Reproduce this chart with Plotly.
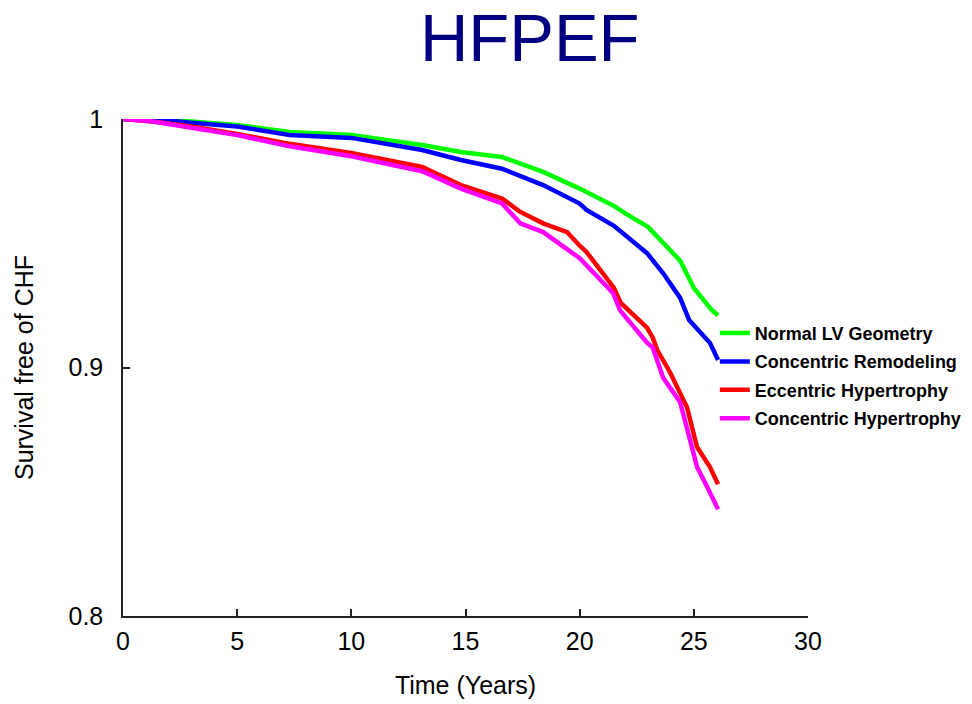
import plotly.graph_objects as go

# Kaplan-Meier style survival curves
series_names = ["Normal LV Geometry", "Concentric Remodeling",
                "Eccentric Hypertrophy", "Concentric Hypertrophy"]
series_colors = ["#00FF00", "#0000FF", "#FF0000", "#FF00FF"]

normal_t = [0, 1.3, 3, 5, 7.3, 10, 13.1, 14.8, 16.6, 18.4, 20.0, 21.5, 22.0,
            23.0, 24.4, 25.0, 25.8, 26.06]
normal_s = [1.0, 1.0, 0.999, 0.9976, 0.9948, 0.9936, 0.9895, 0.9867, 0.9847,
            0.9787, 0.972, 0.965, 0.962, 0.9565, 0.943, 0.932, 0.923, 0.921]

remod_t = [0, 1.3, 3, 5, 7.3, 10, 13.1, 14.8, 16.6, 18.4, 20.0, 20.3, 21.5,
           22.95, 23.65, 24.4, 24.8, 25.7, 26.06]
remod_s = [1.0, 1.0, 0.9985, 0.997, 0.9936, 0.9924, 0.9875, 0.9835, 0.980,
           0.9734, 0.966, 0.9634, 0.957, 0.946, 0.938, 0.928, 0.919, 0.910, 0.903]

ecc_t = [0, 1.3, 3, 5, 7.3, 10, 13.1, 14.8, 16.6, 17.4, 18.4, 19.45, 20.0,
         20.3, 21.5, 21.8, 22.95, 23.2, 23.4, 23.96, 24.7, 25.14, 25.7, 26.06]
ecc_s = [1.0, 0.999, 0.997, 0.994, 0.990, 0.9863, 0.9807, 0.9734, 0.968,
         0.9626, 0.958, 0.9545, 0.949, 0.9465, 0.932, 0.926, 0.916, 0.912,
         0.907, 0.898, 0.884, 0.868, 0.860, 0.853]

conc_t = [0, 1.3, 3, 5, 7.3, 10, 13.1, 14.8, 16.6, 17.4, 18.4, 20.0, 21.46,
          21.77, 22.95, 23.2, 23.65, 24.4, 24.83, 25.14, 25.58, 26.06]
conc_s = [1.0, 0.999, 0.9965, 0.9935, 0.989, 0.985, 0.979, 0.972, 0.966,
          0.958, 0.9545, 0.944, 0.930, 0.923, 0.910, 0.908, 0.896, 0.886,
          0.871, 0.860, 0.852, 0.843]

x_ticks = [0, 5, 10, 15, 20, 25, 30]
y_ticks = [0.8, 0.9, 1.0]
y_tick_labels = ["0.8", "0.9", "1"]

all_t = [normal_t, remod_t, ecc_t, conc_t]
all_s = [normal_s, remod_s, ecc_s, conc_s]

FONT = "Arial, Liberation Sans, sans-serif"

fig = go.Figure()
for i, (name, color, t, s) in enumerate(zip(series_names, series_colors, all_t, all_s)):
    fig.add_trace(go.Scatter(
        x=t, y=s, mode="lines", name=name, legendgroup=f"g{i}",
        line=dict(color=color, width=4.5),
    ))

fig.update_layout(
    width=972, height=704,
    paper_bgcolor="white", plot_bgcolor="white",
    margin=dict(l=123, r=164, t=119, b=88, autoexpand=False),
    title=dict(text="HFPEF", x=0.545, xanchor="center", y=0.946, yanchor="middle",
               font=dict(family=FONT, size=67, color="#000080")),
    font=dict(family=FONT, color="black"),
    showlegend=True,
    legend=dict(x=0.864, y=0.606, xanchor="left", yanchor="top",
                font=dict(family=FONT, size=18, color="black", weight="bold"),
                tracegroupgap=2, bgcolor="rgba(0,0,0,0)", itemwidth=30),
    xaxis=dict(range=[0, 30], tickvals=x_ticks, ticktext=[str(v) for v in x_ticks],
               showline=True, linecolor="#222222", linewidth=1.5,
               ticks="inside", ticklen=7, tickwidth=1.5, tickcolor="#222222",
               showgrid=False, zeroline=False, ticklabelstandoff=2,
               automargin=False,
               tickfont=dict(family=FONT, size=25, color="black"),
               title=dict(text="Time (Years)", standoff=23,
                          font=dict(family=FONT, size=25, color="black"))),
    yaxis=dict(range=[0.8, 1.0], tickvals=y_ticks, ticktext=y_tick_labels,
               showline=True, linecolor="#222222", linewidth=1.5,
               ticks="inside", ticklen=7, tickwidth=1.5, tickcolor="#222222",
               showgrid=False, zeroline=False, ticklabelstandoff=13,
               automargin=False,
               tickfont=dict(family=FONT, size=25, color="black"),
               title=dict(text="Survival free of CHF", standoff=28,
                          font=dict(family=FONT, size=25, color="black"))),
)

fig.write_html("out.html", config={"displayModeBar": False},
               post_script="document.body.style.margin='0';document.body.style.overflow='hidden';")
